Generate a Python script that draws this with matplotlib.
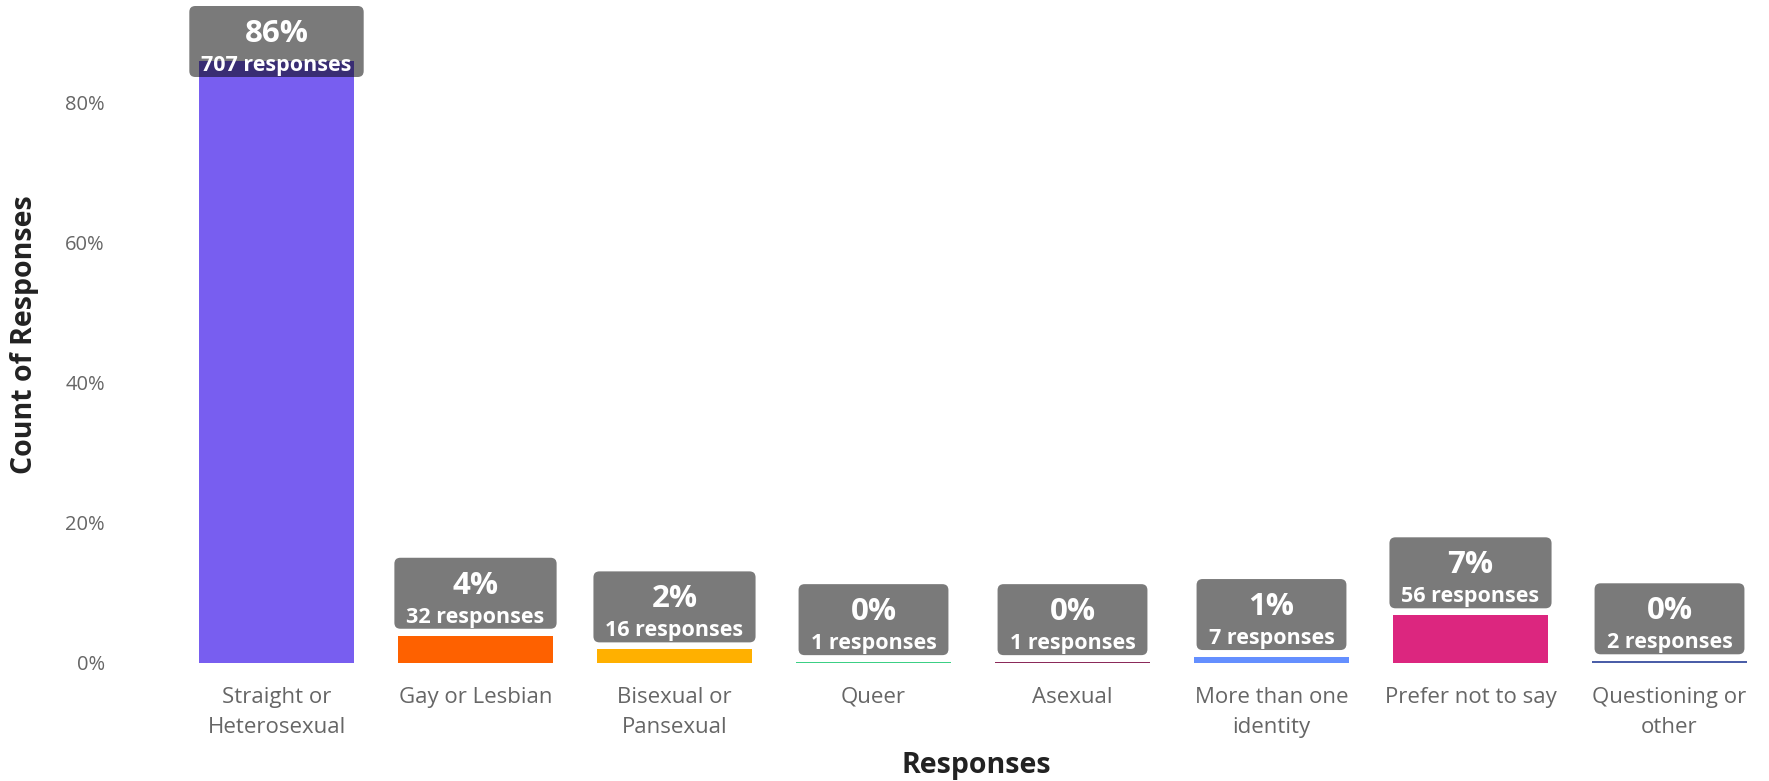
import matplotlib
matplotlib.use("Agg")
import matplotlib.pyplot as plt
from matplotlib.patches import FancyBboxPatch
from matplotlib.transforms import IdentityTransform
from matplotlib.ticker import FuncFormatter

plt.rcParams['font.family'] = ['Open Sans', 'DejaVu Sans']

categories = ["Straight or\nHeterosexual", "Gay or Lesbian", "Bisexual or\nPansexual", "Queer",
              "Asexual", "More than one\nidentity", "Prefer not to say", "Questioning or\nother"]
counts = [707, 32, 16, 1, 1, 7, 56, 2]
colors = ["#785EF0", "#FE6100", "#FFB000", "#3ccf85", "#8b2a5a", "#648FFF", "#DC267F", "#4b5ea8"]

total = sum(counts)
pcts = [c / total * 100 for c in counts]

W, H, DPI = 1769, 781, 100
fig = plt.figure(figsize=(W / DPI, H / DPI), dpi=DPI)
ax = fig.add_axes([177 / W, 1 - 663 / H, 1 - 177 / W, 663 / H])

x = range(len(categories))
ax.bar(x, pcts, width=0.78, color=colors, zorder=2)
ax.set_xlim(-0.5, len(categories) - 0.5)
ax.set_ylim(0, 663 / 7.0)
ax.set_yticks([0, 20, 40, 60, 80])
ax.yaxis.set_major_formatter(FuncFormatter(lambda v, p: f"{v:.0f}%"))
ax.set_xticks(list(x))
ax.set_xticklabels(categories, linespacing=1.6)
ax.tick_params(axis='y', length=0, pad=52, labelsize=14.5, labelcolor='#666666')
ax.tick_params(axis='x', length=0, pad=17, labelsize=16, labelcolor='#666666')
for s in ax.spines.values():
    s.set_visible(False)

fig.text(976 / W, 1 - 766 / H, "Responses", ha='center', va='center',
         fontsize=20.5, fontweight='bold', color='#222222')
fig.text(25 / W, 1 - 335 / H, "Count of Responses", ha='center', va='center', rotation=90,
         fontsize=20.5, fontweight='bold', color='#222222')

# value boxes above bars
fig.canvas.draw()
renderer = fig.canvas.get_renderer()
for i, (p, c) in enumerate(zip(pcts, counts)):
    top = ax.transData.transform((i, p))[1]
    shift = min(0, (H - 6) - (top + 78))
    t_cnt = ax.annotate(f"{c} responses", xy=(i, p), xytext=(0, 13 + shift), textcoords='offset pixels',
                        ha='center', va='baseline', fontsize=15.5, fontweight='bold', color='white',
                        zorder=5, annotation_clip=False)
    t_pct = ax.annotate(f"{round(p)}%", xy=(i, p), xytext=(0, 42 + shift), textcoords='offset pixels',
                        ha='center', va='baseline', fontsize=22.5, fontweight='bold', color='white',
                        zorder=5, annotation_clip=False)
    e1 = t_cnt.get_window_extent(renderer)
    e2 = t_pct.get_window_extent(renderer)
    x0 = min(e1.x0, e2.x0) - 12
    x1 = max(e1.x1, e2.x1) + 12
    y0 = top + 7 + shift
    box = FancyBboxPatch((x0, y0), x1 - x0, 71, boxstyle="round,pad=0,rounding_size=6",
                         transform=IdentityTransform(), facecolor=(0, 0, 0, 0.52),
                         edgecolor='none', zorder=4, clip_on=False)
    ax.add_artist(box)

fig.savefig("out.png", dpi=DPI)
